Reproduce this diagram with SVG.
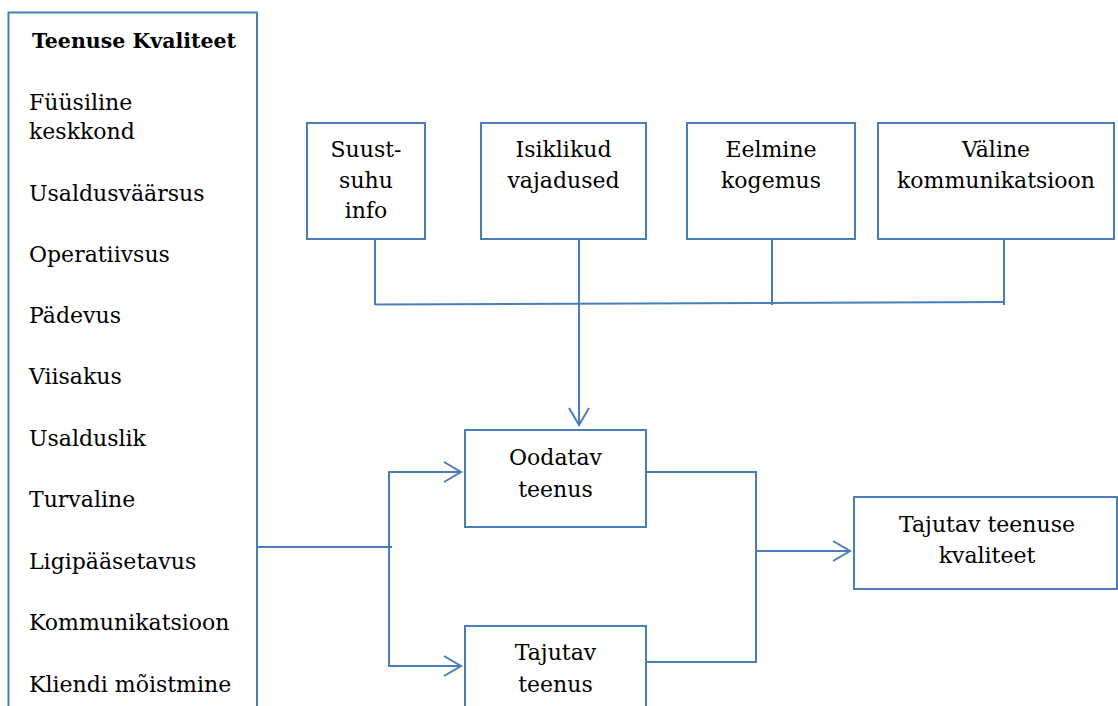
<svg xmlns="http://www.w3.org/2000/svg" width="1118" height="706" viewBox="0 0 1118 706">
  <defs>
    <style>
      .box { fill: #ffffff; stroke: #4A7EBB; stroke-width: 2; }
      .line { fill: none; stroke: #4A7EBB; stroke-width: 2; }
      text { font-family: 'DejaVu Serif', serif; font-size: 22px; fill: #000000; }
      .c { text-anchor: middle; }
      .b { font-weight: bold; font-size: 20.5px; }
    </style>
    <marker id="open-arrow" markerWidth="20" markerHeight="24" refX="18" refY="11" orient="auto" markerUnits="userSpaceOnUse">
      <path d="M1,1 L18,11 L1,21" fill="none" stroke="#4A7EBB" stroke-width="2"/>
    </marker>
  </defs>
  <rect width="1118" height="706" fill="#ffffff"/>

  <!-- quality dimensions column -->
  <g id="teenuse-kvaliteet">
    <rect class="box" x="8.5" y="12.5" width="248.5" height="720"/>
    <text class="b c" x="134" y="48">Teenuse Kvaliteet</text>
    <text x="29" y="110">Füüsiline</text>
    <text x="29" y="139">keskkond</text>
    <text x="29" y="201">Usaldusväärsus</text>
    <text x="29" y="262">Operatiivsus</text>
    <text x="29" y="323">Pädevus</text>
    <text x="29" y="384">Viisakus</text>
    <text x="29" y="446">Usalduslik</text>
    <text x="29" y="507">Turvaline</text>
    <text x="29" y="569">Ligipääsetavus</text>
    <text x="29" y="630">Kommunikatsioon</text>
    <text x="29" y="692">Kliendi mõistmine</text>
  </g>

  <!-- expectation sources -->
  <g id="suust-suhu-info">
    <rect class="box" x="307" y="123" width="118" height="116"/>
    <text class="c" x="366" y="157">Suust-</text>
    <text class="c" x="366" y="188">suhu</text>
    <text class="c" x="366" y="218">info</text>
  </g>
  <g id="isiklikud-vajadused">
    <rect class="box" x="481" y="123" width="165" height="116"/>
    <text class="c" x="563.5" y="157">Isiklikud</text>
    <text class="c" x="563.5" y="188">vajadused</text>
  </g>
  <g id="eelmine-kogemus">
    <rect class="box" x="687" y="123" width="168" height="116"/>
    <text class="c" x="771" y="157">Eelmine</text>
    <text class="c" x="771" y="188">kogemus</text>
  </g>
  <g id="valine-kommunikatsioon">
    <rect class="box" x="878" y="123" width="236" height="116"/>
    <text class="c" x="996" y="157">Väline</text>
    <text class="c" x="996" y="188">kommunikatsioon</text>
  </g>

  <!-- service boxes -->
  <g id="oodatav-teenus">
    <rect class="box" x="465" y="430" width="181" height="97"/>
    <text class="c" x="555.5" y="465">Oodatav</text>
    <text class="c" x="555.5" y="497">teenus</text>
  </g>
  <g id="tajutav-teenus">
    <rect class="box" x="465" y="626" width="181" height="100"/>
    <text class="c" x="555.5" y="660">Tajutav</text>
    <text class="c" x="555.5" y="692">teenus</text>
  </g>
  <g id="tajutav-teenuse-kvaliteet">
    <rect class="box" x="854" y="497" width="263" height="92"/>
    <text class="c" x="987" y="532">Tajutav teenuse</text>
    <text class="c" x="987" y="563">kvaliteet</text>
  </g>

  <!-- connectors -->
  <g id="connectors">
    <line class="line" x1="375" y1="239" x2="375" y2="305"/>
    <line class="line" x1="772" y1="239" x2="772" y2="305"/>
    <line class="line" x1="1004" y1="239" x2="1004" y2="305"/>
    <line class="line" x1="375" y1="304.5" x2="1004" y2="302"/>
    <line class="line" x1="579" y1="239" x2="579" y2="425" marker-end="url(#open-arrow)"/>

    <line class="line" x1="257" y1="547" x2="392" y2="547"/>
    <polyline class="line" points="461,472 389,472 389,666 461,666"/>
    <line class="line" x1="389" y1="472" x2="461" y2="472" marker-end="url(#open-arrow)"/>
    <line class="line" x1="389" y1="666" x2="461" y2="666" marker-end="url(#open-arrow)"/>

    <polyline class="line" points="646,472 756,472 756,662 646,662"/>
    <line class="line" x1="756" y1="551" x2="850" y2="551" marker-end="url(#open-arrow)"/>
  </g>
</svg>
